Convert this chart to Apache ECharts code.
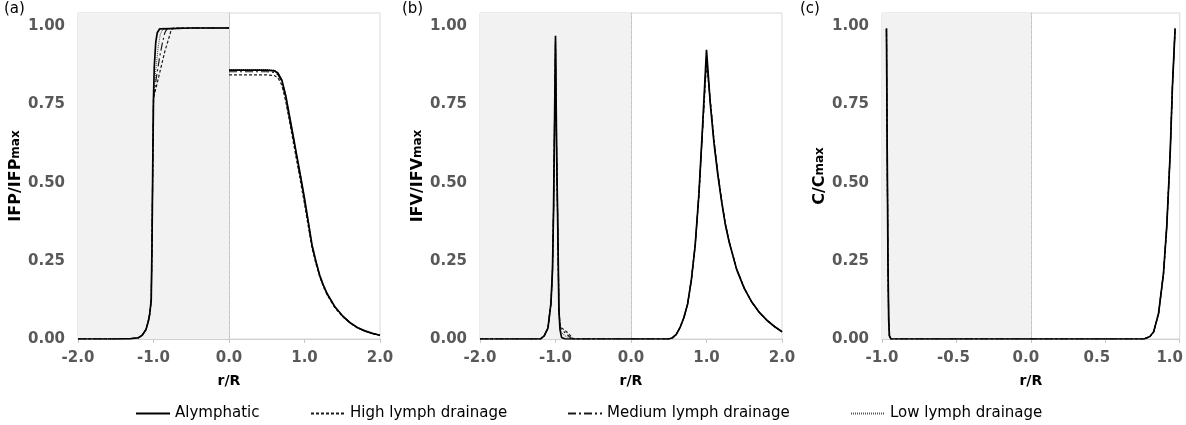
<!DOCTYPE html>
<html>
<head>
<meta charset="utf-8">
<script src="https://cdn.jsdelivr.net/npm/echarts/dist/echarts.min.js"></script>
<style>
html,body{margin:0;padding:0;background:#fff;}
#chart{width:1186px;height:425px;}
</style>
</head>
<body>
<div id="chart"></div>
<script>
// ---------- DATA ----------
const seriesNames = ['Alymphatic', 'High lymph drainage', 'Medium lymph drainage', 'Low lymph drainage'];
const panelLabels = ['(a)', '(b)', '(c)'];
const yNames = [['IFP/IFP', 'max'], ['IFV/IFV', 'max'], ['C/C', 'max']];
const xName = 'r/R';
const yTicks = [0, 0.25, 0.5, 0.75, 1.0];
const xTicksAB = [-2.0, -1.0, 0.0, 1.0, 2.0];
const xTicksC = [-1.0, -0.5, 0.0, 0.5, 1.0];

// Panel (a) IFP/IFPmax
const aLeftX = [-2.0,-1.5,-1.3,-1.2,-1.15,-1.1,-1.07,-1.05,-1.03,-1.02,-1.01,-1.0];
const aLeftY = [0,0,0.001,0.004,0.012,0.03,0.055,0.08,0.125,0.3,0.55,0.77];
const aAlyTopX = [-0.99,-0.97,-0.95,-0.92,-0.9,-0.5,0];
const aAlyTopY = [0.87,0.95,0.98,0.992,0.995,0.995,0.995];
const aHighTopX = [-0.95,-0.9,-0.85,-0.8,-0.77,-0.74,-0.5,0];
const aHighTopY = [0.82,0.87,0.92,0.96,0.985,0.995,0.995,0.995];
const aMedTopX = [-0.96,-0.92,-0.88,-0.85,-0.82,-0.8,-0.5,0];
const aMedTopY = [0.84,0.9,0.95,0.98,0.993,0.995,0.995,0.995];
const aLowTopX = [-0.97,-0.94,-0.91,-0.88,-0.86,-0.5,0];
const aLowTopY = [0.86,0.93,0.975,0.99,0.995,0.995,0.995];
const aRightX = [0,0.5,0.6,0.65,0.7,0.75,0.8,0.85,0.9,0.95,1.0,1.05,1.1,1.15,1.2,1.25,1.3,1.4,1.5,1.6,1.7,1.8,1.9,2.0];
const aAlyRightY  = [0.86,0.86,0.858,0.85,0.828,0.78,0.715,0.65,0.583,0.518,0.45,0.375,0.3,0.25,0.205,0.172,0.145,0.104,0.075,0.053,0.037,0.026,0.018,0.012];
const aHighRightY = [0.845,0.845,0.843,0.835,0.812,0.762,0.697,0.632,0.566,0.5,0.432,0.36,0.29,0.242,0.2,0.168,0.141,0.101,0.073,0.052,0.036,0.025,0.017,0.012];
const aMedRightY  = [0.855,0.855,0.853,0.845,0.822,0.773,0.708,0.643,0.576,0.511,0.443,0.369,0.296,0.247,0.203,0.17,0.143,0.103,0.074,0.052,0.036,0.025,0.018,0.012];
const aLowRightY  = [0.862,0.862,0.86,0.852,0.83,0.782,0.717,0.652,0.585,0.52,0.452,0.377,0.302,0.251,0.206,0.173,0.146,0.104,0.075,0.053,0.037,0.026,0.018,0.012];

// Panel (b) IFV/IFVmax
const bPeakX = [-2.0,-1.2,-1.15,-1.1,-1.06,-1.04,-1.026,-1.0,-0.985,-0.973,-0.955,-0.94,-0.92,-0.9,-0.87,-0.84,-0.8,-0.76,0];
const bAlyPeakY  = [0,0,0.01,0.035,0.115,0.22,0.41,0.97,0.6,0.41,0.093,0.03,0.005,0,0,0,0,0,0];
const bHighPeakY = [0,0,0.01,0.035,0.115,0.22,0.41,0.94,0.6,0.41,0.1,0.045,0.035,0.032,0.027,0.02,0.01,0,0];
const bMedPeakY  = [0,0,0.01,0.035,0.115,0.22,0.41,0.95,0.6,0.41,0.097,0.04,0.03,0.026,0.02,0.013,0.004,0,0];
const bLowPeakY  = [0,0,0.01,0.035,0.115,0.22,0.41,0.96,0.6,0.41,0.095,0.035,0.02,0.015,0.01,0.005,0,0,0];
const bRightX = [0.5,0.55,0.6,0.65,0.7,0.75,0.8,0.85,0.9,0.95,1.0,1.05,1.1,1.15,1.2,1.25,1.3,1.4,1.5,1.6,1.7,1.8,1.9,2.0];
const bAlyRightY  = [0,0.004,0.015,0.037,0.068,0.112,0.19,0.3,0.465,0.69,0.925,0.754,0.625,0.525,0.44,0.365,0.31,0.222,0.162,0.118,0.085,0.06,0.04,0.023];
const bHighRightY = [0,0.004,0.015,0.037,0.068,0.112,0.19,0.3,0.462,0.675,0.88,0.765,0.635,0.533,0.445,0.37,0.313,0.224,0.163,0.118,0.085,0.06,0.04,0.023];
const bMedRightY  = [0,0.004,0.015,0.037,0.068,0.112,0.19,0.3,0.463,0.68,0.9,0.76,0.631,0.53,0.443,0.368,0.312,0.223,0.163,0.118,0.085,0.06,0.04,0.023];
const bLowRightY  = [0,0.004,0.015,0.037,0.068,0.112,0.19,0.3,0.464,0.685,0.91,0.757,0.628,0.527,0.442,0.366,0.311,0.222,0.162,0.118,0.085,0.06,0.04,0.023];

// Panel (c) C/Cmax
const cX = [-0.97,-0.965,-0.96,-0.955,-0.95,-0.94,0,0.76,0.8,0.825,0.858,0.891,0.913,0.936,0.951,0.969];
const cAlyY  = [0.993,0.6,0.25,0.06,0.01,0,0,0,0.008,0.023,0.082,0.21,0.36,0.594,0.807,0.993];
const cHighY = [0.993,0.6,0.25,0.06,0.01,0,0,0,0.008,0.023,0.082,0.21,0.36,0.594,0.807,0.993];
const cMedY  = [0.993,0.6,0.25,0.06,0.01,0,0,0,0.008,0.023,0.082,0.21,0.36,0.594,0.807,0.993];
const cLowY  = [0.993,0.6,0.25,0.06,0.01,0,0,0,0.008,0.023,0.082,0.21,0.36,0.594,0.807,0.993];

// ---------- BUILD ----------
const zip = (xs, ys) => xs.map((x, i) => [x, ys[i]]);
const BREAK = [[0, '-']];
const aSeries = (topX, topY, rightY) =>
  zip(aLeftX, aLeftY).concat(zip(topX, topY), BREAK, zip(aRightX, rightY));
const bSeries = (peakY, rightY) => zip(bPeakX, peakY).concat(zip(bRightX, rightY));
const panelData = [
  [aSeries(aAlyTopX, aAlyTopY, aAlyRightY), aSeries(aHighTopX, aHighTopY, aHighRightY),
   aSeries(aMedTopX, aMedTopY, aMedRightY), aSeries(aLowTopX, aLowTopY, aLowRightY)],
  [bSeries(bAlyPeakY, bAlyRightY), bSeries(bHighPeakY, bHighRightY),
   bSeries(bMedPeakY, bMedRightY), bSeries(bLowPeakY, bLowRightY)],
  [zip(cX, cAlyY), zip(cX, cHighY), zip(cX, cMedY), zip(cX, cLowY)]
];
const xRanges = [[-2, 2, 1], [-2, 2, 1], [-1, 1, 0.5]];
const gridLefts = [78, 480, 882];
const gridWidths = [302, 302, 300];
const labelLefts = [4, 402, 800];
const legendLefts = [130, 305, 562, 845];
// label shifts (px to the left) seen in the reference for panel (c)
const cLabelPad = {'-1.0': 0, '-0.5': 6, '0.0': 10, '0.5': 17, '1.0': 20};

const FONT = 'DejaVu Sans';
const lineStyles = [
  {color: '#000', width: 1.7, type: 'solid'},
  {color: '#1a1a1a', width: 1.2, type: [3, 2]},
  {color: '#1a1a1a', width: 1.2, type: [8, 3, 2, 3]},
  {color: '#555', width: 1.1, type: [1, 1]}
];
const tickLabelStyle = {fontFamily: FONT, fontWeight: 'bold', fontSize: 15, color: '#595959'};

const grids = [], xAxes = [], yAxes = [], series = [], titles = [];
for (let p = 0; p < 3; p++) {
  grids.push({left: gridLefts[p], top: 13, width: gridWidths[p], height: 326,
    show: true, borderColor: '#d9d9d9', borderWidth: 1, backgroundColor: 'transparent', containLabel: false});
  const [mn, mx, iv] = xRanges[p];
  const xLabel = {margin: 12, ...tickLabelStyle, formatter: v => v.toFixed(1)};
  if (p === 2) {
    const rich = {};
    Object.keys(cLabelPad).forEach((k, i) => {
      rich['p' + i] = {...tickLabelStyle, padding: [0, cLabelPad[k], 0, 0]};
    });
    xLabel.rich = rich;
    xLabel.formatter = v => {
      const s = v.toFixed(1);
      const i = Object.keys(cLabelPad).indexOf(s);
      return i < 0 ? s : '{p' + i + '|' + s + '}';
    };
  }
  xAxes.push({type: 'value', gridIndex: p, min: mn, max: mx, interval: iv,
    name: xName, nameLocation: 'middle', nameGap: 35,
    nameTextStyle: {fontFamily: FONT, fontWeight: 'bold', fontSize: 14, color: '#000'},
    axisLine: {show: true, onZero: false, lineStyle: {color: '#d0d0d0', width: 1}},
    axisTick: {show: true, length: 4, lineStyle: {color: '#c8c8c8'}},
    splitLine: {show: false},
    axisLabel: xLabel
  });
  yAxes.push({type: 'value', gridIndex: p, min: 0, max: 1.043, interval: 0.25,
    name: '{a|' + yNames[p][0] + '}{b|' + yNames[p][1] + '}',
    nameLocation: 'middle', nameRotate: 90, nameGap: 53,
    nameTextStyle: {rich: {
      a: {fontFamily: FONT, fontWeight: 'bold', fontSize: 16, color: '#000'},
      b: {fontFamily: FONT, fontWeight: 'bold', fontSize: 12, color: '#000'}
    }},
    axisLine: {show: true, lineStyle: {color: '#d0d0d0', width: 1}},
    axisTick: {show: true, length: 4, lineStyle: {color: '#c8c8c8'}, customValues: yTicks},
    splitLine: {show: false},
    axisLabel: {margin: 13, ...tickLabelStyle, customValues: yTicks,
      formatter: v => (Math.abs(v * 4 - Math.round(v * 4)) < 1e-6 ? v.toFixed(2) : '')}
  });
  titles.push({text: panelLabels[p], left: labelLefts[p], top: 2, padding: 0,
    textStyle: {fontFamily: FONT, fontWeight: 'normal', fontSize: 15, color: '#000'}});
  for (let s = 0; s < 4; s++) {
    const ser = {
      type: 'line', name: seriesNames[s], xAxisIndex: p, yAxisIndex: p,
      data: panelData[p][s], showSymbol: false, symbol: 'none', smooth: false,
      connectNulls: false, animation: false,
      lineStyle: lineStyles[s], itemStyle: {color: lineStyles[s].color},
      z: 10 - s
    };
    if (s === 0) {
      ser.markArea = {silent: true, itemStyle: {color: '#f2f2f2'}, z: 1,
        data: [[{xAxis: mn}, {xAxis: 0}]]};
      ser.markLine = {silent: true, symbol: 'none', label: {show: false},
        lineStyle: {color: '#c4c4c4', type: [3, 2], width: 1},
        data: [{xAxis: 0}]};
    }
    series.push(ser);
  }
}

const legends = seriesNames.map((n, i) => ({
  data: [n], left: legendLefts[i], top: 401, itemWidth: 34, itemHeight: 14, selectedMode: false,
  itemStyle: {opacity: 0},
  textStyle: {fontFamily: FONT, fontSize: 15, color: '#000'}
}));

const chart = echarts.init(document.getElementById('chart'), null, {renderer: 'canvas'});
chart.setOption({
  animation: false,
  backgroundColor: '#fff',
  title: titles,
  legend: legends,
  grid: grids,
  xAxis: xAxes,
  yAxis: yAxes,
  series: series
});
</script>
</body>
</html>
